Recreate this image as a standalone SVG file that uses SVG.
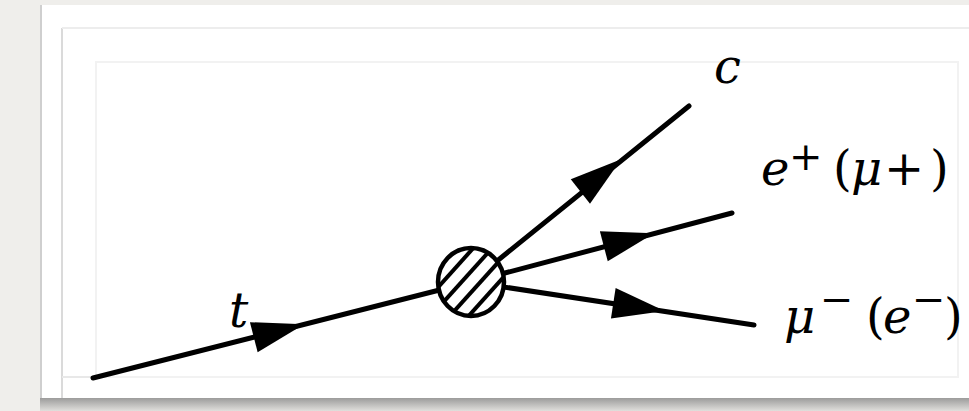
<svg xmlns="http://www.w3.org/2000/svg" width="969" height="411" viewBox="0 0 969 411">
<defs>
<style>
.ln{stroke:#000;stroke-width:5;stroke-linecap:round;fill:none}
.hatch{stroke:#000;stroke-width:4}
.i{font-style:italic}
.u{font-style:normal}
.s{font-size:40px}
</style>
<path id="ah" d="M27,0 L-25,-15.5 L-25,15.5 Z" fill="#000"/>
<linearGradient id="sh" x1="0" y1="0" x2="0" y2="1">
<stop offset="0" stop-color="#8c8c8c"/>
<stop offset="1" stop-color="#e0dfdc"/>
</linearGradient>
<clipPath id="cc"><ellipse cx="471" cy="282" rx="32" ry="33"/></clipPath>
</defs>
<rect width="969" height="411" fill="#efeeeb"/>
<rect x="40" y="395" width="929" height="16" fill="url(#sh)"/>
<rect x="40" y="5" width="929" height="393" fill="#fff"/>
<line x1="41" y1="5" x2="41" y2="398" stroke="#cfcfcf" stroke-width="2"/>
<line x1="62" y1="28" x2="62" y2="398" stroke="#dadada" stroke-width="2"/>
<line x1="62" y1="28" x2="969" y2="28" stroke="#ededed" stroke-width="2"/>
<line x1="62" y1="377" x2="958" y2="377" stroke="#e8e8e8" stroke-width="2"/>
<rect x="96" y="62" width="862" height="315" fill="none" stroke="#f2f2f2" stroke-width="2"/>

<g id="connectors">
<line class="ln" x1="93" y1="378" x2="471" y2="282"/>
<line class="ln" x1="471" y1="282" x2="689" y2="106"/>
<line class="ln" x1="471" y1="282" x2="732" y2="213"/>
<line class="ln" x1="471" y1="282" x2="754" y2="325"/>
<use href="#ah" transform="translate(278,331) rotate(-14.4)"/>
<use href="#ah" transform="translate(600,176) rotate(-38.3)"/>
<use href="#ah" transform="translate(628,240) rotate(-14.7)"/>
<use href="#ah" transform="translate(638,307) rotate(8.7)"/>
</g>

<g id="vertex">
<ellipse cx="471" cy="282" rx="33" ry="34" fill="#fff" stroke="#000" stroke-width="4.5"/>
<g clip-path="url(#cc)">
<g transform="translate(471,282) rotate(-48)">
<line class="hatch" x1="-45" y1="-21" x2="45" y2="-21"/>
<line class="hatch" x1="-45" y1="-7" x2="45" y2="-7"/>
<line class="hatch" x1="-45" y1="7" x2="45" y2="7"/>
<line class="hatch" x1="-45" y1="21" x2="45" y2="21"/>
</g>
</g>
</g>

<g id="labels" font-family="DejaVu Serif, serif" font-size="48" fill="#000">
<g id="label-t"><text class="i" x="229" y="327">t</text></g>
<g id="label-c"><text class="i" x="714" y="83">c</text></g>
<g id="label-eplus"><text y="185"><tspan class="i" x="761">e</tspan><tspan class="u s" x="789" y="170">+</tspan><tspan class="u" x="833" y="185">(</tspan><tspan class="i" x="851">μ</tspan><tspan class="u" x="884">+</tspan><tspan class="u" x="930">)</tspan></text></g>
<g id="label-muminus"><text y="333"><tspan class="i" x="784">μ</tspan><tspan class="u s" x="820" y="313">−</tspan><tspan class="u" x="866" y="333">(</tspan><tspan class="i" x="883">e</tspan><tspan class="u s" x="912" y="313">−</tspan><tspan class="u" x="944" y="333">)</tspan></text></g>
</g>
</svg>
